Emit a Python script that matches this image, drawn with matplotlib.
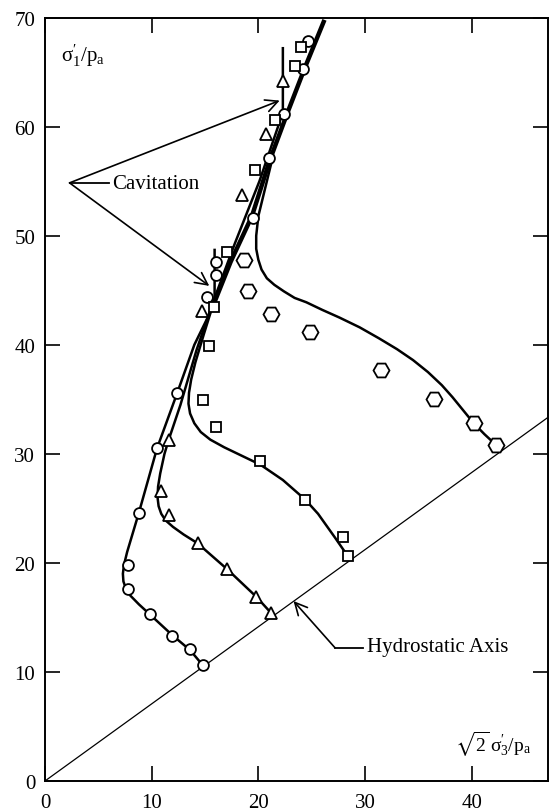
import matplotlib
matplotlib.use("Agg")
import matplotlib.pyplot as plt
import numpy as np

plt.rcParams['font.family'] = ['Liberation Serif', 'DejaVu Serif']
plt.rcParams['mathtext.fontset'] = 'custom'
plt.rcParams['mathtext.rm'] = 'Liberation Serif'
plt.rcParams['mathtext.it'] = 'Liberation Serif:italic'
plt.rcParams['mathtext.fallback'] = 'stix'

# ---------------- data ----------------
circle_x = [14.8, 13.6, 11.9, 9.8, 7.8, 7.8, 8.8, 10.5, 12.4, 15.2, 16.0, 16.0, 19.5, 21.0, 22.4, 24.2, 24.7]
circle_y = [10.6, 12.1, 13.3, 15.3, 17.6, 19.8, 24.6, 30.5, 35.6, 44.4, 46.4, 47.6, 51.6, 57.1, 61.2, 65.3, 67.9]

square_x = [28.4, 27.9, 24.4, 20.2, 16.0, 14.8, 15.4, 15.8, 17.1, 19.7, 21.6, 23.4, 24.0]
square_y = [20.6, 22.4, 25.8, 29.3, 32.5, 34.9, 39.9, 43.5, 48.5, 56.0, 60.6, 65.6, 67.3]

triangle_x = [21.2, 19.8, 17.1, 14.3, 11.6, 10.9, 11.6, 14.7, 18.5, 20.7, 22.3]
triangle_y = [15.4, 16.9, 19.4, 21.8, 24.4, 26.6, 31.3, 43.1, 53.7, 59.3, 64.2]

hexagon_x = [42.3, 40.2, 36.5, 31.5, 24.8, 21.2, 19.0, 18.7]
hexagon_y = [30.8, 32.8, 35.0, 37.7, 41.2, 42.8, 44.9, 47.8]

# fitted curves
curve1_x = [14.8, 13.6, 11.9, 9.8, 8.8, 8.0, 7.6, 7.35, 7.3, 7.4, 7.7, 8.8, 10.5, 12.4, 14.0, 15.9, 15.9]
curve1_y = [10.6, 12.0, 13.4, 15.3, 16.2, 17.0, 17.6, 18.3, 19.0, 19.8, 21.0, 24.6, 30.5, 35.6, 40.0, 43.8, 48.7]

curve2_x = [21.2, 19.8, 17.1, 14.3, 13.0, 12.0, 11.3, 10.9, 10.65, 10.55, 10.6, 10.8, 11.2, 11.6,
            12.7, 14.2, 15.6, 17.8, 20.1, 22.3, 22.3]
curve2_y = [15.4, 16.9, 19.4, 21.8, 22.6, 23.3, 23.9, 24.5, 25.2, 26.0, 27.0, 28.2, 30.0, 31.3,
            34.5, 39.5, 43.5, 49.3, 55.0, 61.3, 67.2]

curve3_x = [28.4, 27.2, 25.6, 24.4, 22.3, 20.2, 18.5, 16.8, 15.5, 14.6, 14.0, 13.6, 13.45, 13.5,
            13.7, 14.1, 14.9, 15.6]
curve3_y = [20.6, 22.3, 24.5, 25.8, 27.6, 29.0, 29.8, 30.6, 31.3, 32.0, 32.8, 33.7, 34.6, 35.6,
            36.8, 38.4, 41.0, 43.2]

main_x = [15.6, 17.4, 19.4, 21.1, 22.7, 24.4, 26.2]
main_y = [43.2, 47.6, 51.8, 57.0, 61.2, 65.5, 69.8]

curve4_x = [42.3, 41.2, 40.2, 39.2, 38.2, 37.2, 35.9, 34.5, 33.0, 31.3, 29.5, 27.6, 26.0, 24.5,
            23.4, 22.4, 21.5, 20.8, 20.3, 20.0, 19.8, 19.8, 20.0, 20.4, 21.3]
curve4_y = [30.8, 31.8, 32.8, 34.0, 35.2, 36.3, 37.5, 38.6, 39.6, 40.6, 41.6, 42.5, 43.2, 43.9,
            44.3, 44.9, 45.5, 46.1, 46.9, 47.8, 48.8, 50.0, 51.8, 53.4, 57.0]

hydro_x = [0.0, 47.2]
xticks = [0, 10, 20, 30, 40]
yticks = [0, 10, 20, 30, 40, 50, 60, 70]

# ---------------- figure ----------------
fig = plt.figure(figsize=(5.49, 8.12), dpi=100)
ax = fig.add_axes([0.082, 0.037, 0.917, 0.940])
ax.set_xlim(0, 47.2)
ax.set_ylim(0, 70)

# hydrostatic axis  sigma1 = sigma3  ->  y = x / sqrt(2)
hx = np.array(hydro_x)
ax.plot(hx, hx / np.sqrt(2), color='black', lw=0.9, zorder=2)

lw = 1.8
for cx, cy in [(curve1_x, curve1_y), (curve2_x, curve2_y), (curve3_x, curve3_y), (curve4_x, curve4_y)]:
    ax.plot(cx, cy, color='black', lw=lw, zorder=3, solid_joinstyle='round')
ax.plot(main_x, main_y, color='black', lw=3.2, zorder=3, solid_capstyle='butt')

mk = dict(linestyle='none', markerfacecolor='white', markeredgecolor='black',
          markeredgewidth=1.3, zorder=5)
ax.plot(circle_x, circle_y, marker='o', markersize=7.8, **mk)
ax.plot(square_x, square_y, marker='s', markersize=7.2, **mk)
ax.plot(triangle_x, triangle_y, marker='^', markersize=8.2, **mk)
ax.plot(hexagon_x, hexagon_y, marker='H', markersize=11.5, **mk)

# axis labels inside the plot
ax.text(1.5, 66.6, r"$\mathrm{\sigma_1^{\prime}/p_a}$", fontsize=15, ha='left', va='center')
ax.text(38.4, 3.4, r"$\sqrt{2}\,\mathrm{\sigma_3^{\prime}/p_a}$", fontsize=14, ha='left', va='center')

# Cavitation annotation
ax.text(6.3, 54.8, "Cavitation", fontsize=15, ha='left', va='center')
ax.plot([6.0, 2.3], [54.85, 54.85], color='black', lw=1.3)
arrowprops = dict(arrowstyle='->', color='black', lw=1.2, mutation_scale=22, shrinkA=0, shrinkB=0)
ax.annotate("", xy=(22.0, 62.4), xytext=(2.3, 54.85), arrowprops=arrowprops)
ax.annotate("", xy=(15.4, 45.4), xytext=(2.3, 54.85), arrowprops=arrowprops)

# Hydrostatic Axis annotation
ax.text(30.2, 12.3, "Hydrostatic Axis", fontsize=15, ha='left', va='center')
ax.plot([29.8, 27.2], [12.2, 12.2], color='black', lw=1.3)
ax.annotate("", xy=(23.3, 16.5), xytext=(27.2, 12.2), arrowprops=arrowprops)

# ticks and spines
ax.set_xticks(xticks)
ax.set_yticks(yticks)
ax.tick_params(direction='in', length=11, width=1.2, labelsize=15, top=True, right=True)
ax.tick_params(axis='x', pad=9)
ax.tick_params(axis='y', pad=7)
for s in ax.spines.values():
    s.set_linewidth(1.4)

fig.savefig("out.png", dpi=100)
